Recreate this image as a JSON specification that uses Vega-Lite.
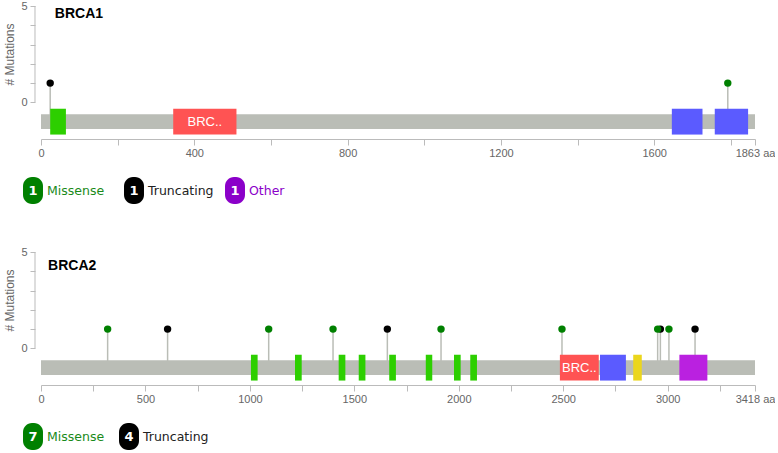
{
  "$schema": "https://vega.github.io/schema/vega-lite/v6.json",
  "padding": {"left": 3, "top": 0, "right": 0, "bottom": 0},
  "background": "white",
  "config": {"view": {"stroke": null}, "font": "Liberation Sans"},
  "datasets": {
    "brca1_gene": [{"gene": "BRCA1", "length": 1863}],
    "brca1_domains": [
      {"name": "zf-C3HC4", "start": 24, "end": 65, "label": ""},
      {"name": "BRCT_assoc", "start": 345, "end": 510, "label": "BRC.."},
      {"name": "BRCT", "start": 1646, "end": 1726, "label": ""},
      {"name": "BRCT", "start": 1758, "end": 1845, "label": ""}
    ],
    "brca1_muts": [
      {"pos": 24, "count": 1, "type": "Truncating"},
      {"pos": 1792, "count": 1, "type": "Missense"}
    ],
    "brca1_legend": [
      {"type": "Missense", "count": 1},
      {"type": "Truncating", "count": 1},
      {"type": "Other", "count": 1}
    ],
    "brca2_gene": [{"gene": "BRCA2", "length": 3418}],
    "brca2_domains": [
      {"name": "BRCA2", "start": 1005, "end": 1037, "label": ""},
      {"name": "BRCA2", "start": 1216, "end": 1248, "label": ""},
      {"name": "BRCA2", "start": 1425, "end": 1457, "label": ""},
      {"name": "BRCA2", "start": 1521, "end": 1553, "label": ""},
      {"name": "BRCA2", "start": 1667, "end": 1699, "label": ""},
      {"name": "BRCA2", "start": 1842, "end": 1873, "label": ""},
      {"name": "BRCA2", "start": 1977, "end": 2009, "label": ""},
      {"name": "BRCA2", "start": 2055, "end": 2087, "label": ""},
      {"name": "BRCA-2_helical", "start": 2484, "end": 2670, "label": "BRC.."},
      {"name": "BRCA-2_OB1", "start": 2676, "end": 2800, "label": ""},
      {"name": "Tower", "start": 2835, "end": 2876, "label": ""},
      {"name": "BRCA-2_OB3", "start": 3056, "end": 3190, "label": ""}
    ],
    "brca2_muts": [
      {"pos": 319, "count": 1, "type": "Missense"},
      {"pos": 606, "count": 1, "type": "Truncating"},
      {"pos": 1090, "count": 1, "type": "Missense"},
      {"pos": 1398, "count": 1, "type": "Missense"},
      {"pos": 1658, "count": 1, "type": "Truncating"},
      {"pos": 1915, "count": 1, "type": "Missense"},
      {"pos": 2494, "count": 1, "type": "Missense"},
      {"pos": 2965, "count": 1, "type": "Truncating"},
      {"pos": 2952, "count": 1, "type": "Missense"},
      {"pos": 3006, "count": 1, "type": "Missense"},
      {"pos": 3131, "count": 1, "type": "Truncating"}
    ],
    "brca2_legend": [
      {"type": "Missense", "count": 7},
      {"type": "Truncating", "count": 4}
    ]
  },
  "spacing": 42,
  "vconcat": [
    {
      "spacing": 19,
      "vconcat": [
        {
          "width": 714,
          "height": 133,
          "layer": [
            {
              "data": {"name": "brca1_muts"},
              "mark": {"type": "rule", "color": "#BABDB6", "strokeWidth": 1.5},
              "encoding": {
                "x": {"field": "pos", "type": "quantitative", "scale": {"domain": [0, 1863], "nice": false, "zero": false},
                  "axis": {"values": [0, 200, 400, 600, 800, 1000, 1200, 1400, 1600, 1800, 1863], "tickCount": 20, "format": "d",
                    "labelExpr": "datum.value == 1863 ? '1863 aa' : (datum.value % 400 == 0 ? datum.label : '')",
                    "title": null, "grid": false, "tickSize": 6, "labelPadding": 2, "labelFlush": false, "labelOverlap": false,
                    "domainColor": "#bbbbbb", "tickColor": "#bbbbbb", "labelColor": "#666666", "labelFont": "Liberation Sans", "labelFontSize": 11}},
                "y": {"field": "count", "type": "quantitative", "scale": {"domain": [-1.9, 5], "nice": false, "zero": false},
                  "axis": {"values": [0, 1, 2, 3, 4, 5], "tickCount": 10, "format": "d", "labelExpr": "datum.value == 0 || datum.value == 5 ? datum.label : ''",
                    "domain": false, "offset": 6, "tickSize": 5, "labelPadding": 3, "labelOverlap": false, "labelFlush": false, "title": "# Mutations", "titleFontWeight": "normal",
                    "titleFontSize": 12, "titleColor": "#666666", "titleFont": "Liberation Sans", "titlePadding": 4, "titleY": 48, "grid": false,
                    "tickColor": "#bbbbbb", "labelColor": "#666666", "labelFontSize": 11, "labelFont": "Liberation Sans"}},
                "y2": {"datum": -1}
              }
            },
            {
              "data": {"name": "brca1_gene"},
              "mark": {"type": "rule", "color": "#bbbbbb", "strokeWidth": 1},
              "encoding": {
                "x": {"datum": -15.66, "type": "quantitative", "scale": {"domain": [0, 1863], "nice": false, "zero": false}},
                "y": {"datum": 0, "type": "quantitative", "scale": {"domain": [-1.9, 5], "nice": false, "zero": false}},
                "y2": {"datum": 5}
              }
            },
            {
              "data": {"name": "brca1_gene"},
              "mark": {"type": "rect", "color": "#BABDB6"},
              "encoding": {
                "x": {"field": "length", "type": "quantitative", "scale": {"domain": [0, 1863], "nice": false, "zero": false}},
                "x2": {"datum": 0},
                "y": {"datum": -1.38, "type": "quantitative", "scale": {"domain": [-1.9, 5], "nice": false, "zero": false}},
                "y2": {"datum": -0.62}
              }
            },
            {
              "data": {"name": "brca1_domains"},
              "mark": {"type": "rect"},
              "encoding": {
                "x": {"field": "start", "type": "quantitative", "scale": {"domain": [0, 1863], "nice": false, "zero": false}},
                "x2": {"field": "end"},
                "y": {"datum": -1.67, "type": "quantitative", "scale": {"domain": [-1.9, 5], "nice": false, "zero": false}},
                "y2": {"datum": -0.33},
                "color": {"field": "name", "type": "nominal", "legend": null,
                  "scale": {"domain": ["zf-C3HC4", "BRCT_assoc", "BRCT", "BRCA2", "BRCA-2_helical", "BRCA-2_OB1", "Tower", "BRCA-2_OB3", "Missense", "Truncating", "Other"],
                    "range": ["#2dcf00", "#ff5353", "#5b5bff", "#2dcf00", "#ff5353", "#5b5bff", "#ebd61d", "#ba21e0", "#008000", "#000000", "#8B00C9"]}}
              }
            },
            {
              "data": {"name": "brca1_domains"},
              "transform": [{"filter": "datum.label != ''"}, {"calculate": "(datum.start + datum.end) / 2", "as": "mid"}],
              "mark": {"type": "text", "color": "white", "font": "Liberation Sans", "fontSize": 13, "baseline": "middle", "align": "center"},
              "encoding": {
                "x": {"field": "mid", "type": "quantitative", "scale": {"domain": [0, 1863], "nice": false, "zero": false}},
                "y": {"datum": -1, "type": "quantitative", "scale": {"domain": [-1.9, 5], "nice": false, "zero": false}},
                "text": {"field": "label"}
              }
            },
            {
              "data": {"name": "brca1_muts"},
              "mark": {"type": "point", "filled": true, "size": 55, "opacity": 1},
              "encoding": {
                "x": {"field": "pos", "type": "quantitative", "scale": {"domain": [0, 1863], "nice": false, "zero": false}},
                "y": {"field": "count", "type": "quantitative", "scale": {"domain": [-1.9, 5], "nice": false, "zero": false}},
                "color": {"field": "type", "type": "nominal", "legend": null,
                  "scale": {"domain": ["zf-C3HC4", "BRCT_assoc", "BRCT", "BRCA2", "BRCA-2_helical", "BRCA-2_OB1", "Tower", "BRCA-2_OB3", "Missense", "Truncating", "Other"],
                    "range": ["#2dcf00", "#ff5353", "#5b5bff", "#2dcf00", "#ff5353", "#5b5bff", "#ebd61d", "#ba21e0", "#008000", "#000000", "#8B00C9"]}}
              }
            },
            {
              "data": {"name": "brca1_gene"},
              "mark": {"type": "text", "font": "Liberation Sans", "fontWeight": "bold", "fontSize": 14, "align": "left", "baseline": "middle", "color": "#000000"},
              "encoding": {
                "x": {"datum": 36, "type": "quantitative", "scale": {"domain": [0, 1863], "nice": false, "zero": false}},
                "y": {"datum": 4.57, "type": "quantitative", "scale": {"domain": [-1.9, 5], "nice": false, "zero": false}},
                "text": {"field": "gene"}
              }
            }
          ]
        },
        {
          "data": {"name": "brca1_legend"},
          "width": 202,
          "height": 27,
          "encoding": {
            "x": {"field": "type", "type": "nominal", "scale": {"type": "point", "domain": ["Missense", "Truncating", "Other"], "padding": 0}, "axis": null}
          },
          "layer": [
            {
              "mark": {"type": "point", "filled": true, "opacity": 1, "size": 729, "xOffset": -8, "strokeWidth": 0,
                "shape": "M -0.74,-0.333 A 0.667,0.667 0 0 1 -0.074,-1 L 0.074,-1 A 0.667,0.667 0 0 1 0.74,-0.333 L 0.74,0.333 A 0.667,0.667 0 0 1 0.074,1 L -0.074,1 A 0.667,0.667 0 0 1 -0.74,0.333 Z"},
              "encoding": {
                "color": {"field": "type", "type": "nominal", "legend": null,
                  "scale": {"domain": ["zf-C3HC4", "BRCT_assoc", "BRCT", "BRCA2", "BRCA-2_helical", "BRCA-2_OB1", "Tower", "BRCA-2_OB3", "Missense", "Truncating", "Other"],
                    "range": ["#2dcf00", "#ff5353", "#5b5bff", "#2dcf00", "#ff5353", "#5b5bff", "#ebd61d", "#ba21e0", "#008000", "#000000", "#8B00C9"]}}
              }
            },
            {
              "mark": {"type": "text", "dx": -8, "color": "white", "font": "DejaVu Sans", "fontWeight": "bold", "fontSize": 13, "baseline": "middle", "align": "center"},
              "encoding": {
                "text": {"field": "count", "type": "quantitative"}
              }
            },
            {
              "mark": {"type": "text", "dx": 6, "font": "DejaVu Sans", "fontSize": 12.5, "baseline": "middle", "align": "left"},
              "encoding": {
                "text": {"field": "type"},
                "fill": {"field": "type", "type": "nominal", "legend": null,
                  "scale": {"domain": ["Missense", "Truncating", "Other"], "range": ["#1a8a1a", "#222222", "#8B00C9"]}}
              }
            }
          ]
        }
      ]
    },
    {
      "spacing": 19,
      "vconcat": [
        {
          "width": 714,
          "height": 133,
          "layer": [
            {
              "data": {"name": "brca2_muts"},
              "mark": {"type": "rule", "color": "#BABDB6", "strokeWidth": 1.5},
              "encoding": {
                "x": {"field": "pos", "type": "quantitative", "scale": {"domain": [0, 3418], "nice": false, "zero": false},
                  "axis": {"values": [0, 250, 500, 750, 1000, 1250, 1500, 1750, 2000, 2250, 2500, 2750, 3000, 3250, 3418], "tickCount": 20, "format": "d",
                    "labelExpr": "datum.value == 3418 ? '3418 aa' : (datum.value % 500 == 0 ? datum.label : '')",
                    "title": null, "grid": false, "tickSize": 6, "labelPadding": 2, "labelFlush": false, "labelOverlap": false,
                    "domainColor": "#bbbbbb", "tickColor": "#bbbbbb", "labelColor": "#666666", "labelFont": "Liberation Sans", "labelFontSize": 11}},
                "y": {"field": "count", "type": "quantitative", "scale": {"domain": [-1.9, 5], "nice": false, "zero": false},
                  "axis": {"values": [0, 1, 2, 3, 4, 5], "tickCount": 10, "format": "d", "labelExpr": "datum.value == 0 || datum.value == 5 ? datum.label : ''",
                    "domain": false, "offset": 6, "tickSize": 5, "labelPadding": 3, "labelOverlap": false, "labelFlush": false, "title": "# Mutations", "titleFontWeight": "normal",
                    "titleFontSize": 12, "titleColor": "#666666", "titleFont": "Liberation Sans", "titlePadding": 4, "titleY": 48, "grid": false,
                    "tickColor": "#bbbbbb", "labelColor": "#666666", "labelFontSize": 11, "labelFont": "Liberation Sans"}},
                "y2": {"datum": -1}
              }
            },
            {
              "data": {"name": "brca2_gene"},
              "mark": {"type": "rule", "color": "#bbbbbb", "strokeWidth": 1},
              "encoding": {
                "x": {"datum": -28.72, "type": "quantitative", "scale": {"domain": [0, 3418], "nice": false, "zero": false}},
                "y": {"datum": 0, "type": "quantitative", "scale": {"domain": [-1.9, 5], "nice": false, "zero": false}},
                "y2": {"datum": 5}
              }
            },
            {
              "data": {"name": "brca2_gene"},
              "mark": {"type": "rect", "color": "#BABDB6"},
              "encoding": {
                "x": {"field": "length", "type": "quantitative", "scale": {"domain": [0, 3418], "nice": false, "zero": false}},
                "x2": {"datum": 0},
                "y": {"datum": -1.38, "type": "quantitative", "scale": {"domain": [-1.9, 5], "nice": false, "zero": false}},
                "y2": {"datum": -0.62}
              }
            },
            {
              "data": {"name": "brca2_domains"},
              "mark": {"type": "rect"},
              "encoding": {
                "x": {"field": "start", "type": "quantitative", "scale": {"domain": [0, 3418], "nice": false, "zero": false}},
                "x2": {"field": "end"},
                "y": {"datum": -1.67, "type": "quantitative", "scale": {"domain": [-1.9, 5], "nice": false, "zero": false}},
                "y2": {"datum": -0.33},
                "color": {"field": "name", "type": "nominal", "legend": null,
                  "scale": {"domain": ["zf-C3HC4", "BRCT_assoc", "BRCT", "BRCA2", "BRCA-2_helical", "BRCA-2_OB1", "Tower", "BRCA-2_OB3", "Missense", "Truncating", "Other"],
                    "range": ["#2dcf00", "#ff5353", "#5b5bff", "#2dcf00", "#ff5353", "#5b5bff", "#ebd61d", "#ba21e0", "#008000", "#000000", "#8B00C9"]}}
              }
            },
            {
              "data": {"name": "brca2_domains"},
              "transform": [{"filter": "datum.label != ''"}, {"calculate": "(datum.start + datum.end) / 2", "as": "mid"}],
              "mark": {"type": "text", "color": "white", "font": "Liberation Sans", "fontSize": 13, "baseline": "middle", "align": "center"},
              "encoding": {
                "x": {"field": "mid", "type": "quantitative", "scale": {"domain": [0, 3418], "nice": false, "zero": false}},
                "y": {"datum": -1, "type": "quantitative", "scale": {"domain": [-1.9, 5], "nice": false, "zero": false}},
                "text": {"field": "label"}
              }
            },
            {
              "data": {"name": "brca2_muts"},
              "mark": {"type": "point", "filled": true, "size": 55, "opacity": 1},
              "encoding": {
                "x": {"field": "pos", "type": "quantitative", "scale": {"domain": [0, 3418], "nice": false, "zero": false}},
                "y": {"field": "count", "type": "quantitative", "scale": {"domain": [-1.9, 5], "nice": false, "zero": false}},
                "color": {"field": "type", "type": "nominal", "legend": null,
                  "scale": {"domain": ["zf-C3HC4", "BRCT_assoc", "BRCT", "BRCA2", "BRCA-2_helical", "BRCA-2_OB1", "Tower", "BRCA-2_OB3", "Missense", "Truncating", "Other"],
                    "range": ["#2dcf00", "#ff5353", "#5b5bff", "#2dcf00", "#ff5353", "#5b5bff", "#ebd61d", "#ba21e0", "#008000", "#000000", "#8B00C9"]}}
              }
            },
            {
              "data": {"name": "brca2_gene"},
              "mark": {"type": "text", "font": "Liberation Sans", "fontWeight": "bold", "fontSize": 14, "align": "left", "baseline": "middle", "color": "#000000"},
              "encoding": {
                "x": {"datum": 34, "type": "quantitative", "scale": {"domain": [0, 3418], "nice": false, "zero": false}},
                "y": {"datum": 4.27, "type": "quantitative", "scale": {"domain": [-1.9, 5], "nice": false, "zero": false}},
                "text": {"field": "gene"}
              }
            }
          ]
        },
        {
          "data": {"name": "brca2_legend"},
          "width": 96,
          "height": 27,
          "encoding": {
            "x": {"field": "type", "type": "nominal", "scale": {"type": "point", "domain": ["Missense", "Truncating"], "padding": 0}, "axis": null}
          },
          "layer": [
            {
              "mark": {"type": "point", "filled": true, "opacity": 1, "size": 729, "xOffset": -8, "strokeWidth": 0,
                "shape": "M -0.74,-0.333 A 0.667,0.667 0 0 1 -0.074,-1 L 0.074,-1 A 0.667,0.667 0 0 1 0.74,-0.333 L 0.74,0.333 A 0.667,0.667 0 0 1 0.074,1 L -0.074,1 A 0.667,0.667 0 0 1 -0.74,0.333 Z"},
              "encoding": {
                "color": {"field": "type", "type": "nominal", "legend": null,
                  "scale": {"domain": ["zf-C3HC4", "BRCT_assoc", "BRCT", "BRCA2", "BRCA-2_helical", "BRCA-2_OB1", "Tower", "BRCA-2_OB3", "Missense", "Truncating", "Other"],
                    "range": ["#2dcf00", "#ff5353", "#5b5bff", "#2dcf00", "#ff5353", "#5b5bff", "#ebd61d", "#ba21e0", "#008000", "#000000", "#8B00C9"]}}
              }
            },
            {
              "mark": {"type": "text", "dx": -8, "color": "white", "font": "DejaVu Sans", "fontWeight": "bold", "fontSize": 13, "baseline": "middle", "align": "center"},
              "encoding": {
                "text": {"field": "count", "type": "quantitative"}
              }
            },
            {
              "mark": {"type": "text", "dx": 6, "font": "DejaVu Sans", "fontSize": 12.5, "baseline": "middle", "align": "left"},
              "encoding": {
                "text": {"field": "type"},
                "fill": {"field": "type", "type": "nominal", "legend": null,
                  "scale": {"domain": ["Missense", "Truncating", "Other"], "range": ["#1a8a1a", "#222222", "#8B00C9"]}}
              }
            }
          ]
        }
      ]
    }
  ]
}
